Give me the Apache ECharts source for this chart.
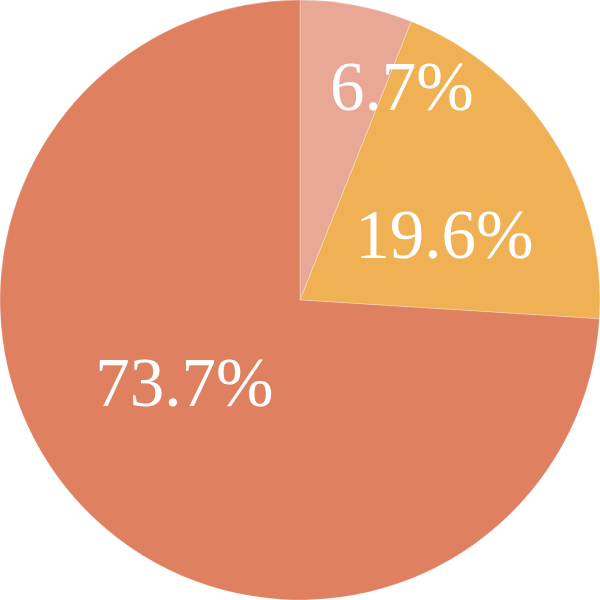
<!DOCTYPE html>
<html><head><meta charset="utf-8">
<script src="https://cdn.jsdelivr.net/npm/echarts@6/dist/echarts.min.js"></script>
<style>html,body{margin:0;padding:0;background:#fff}#c{width:600px;height:600px}</style>
</head><body><div id="c"></div>
<script>
const categories = ['A', 'B', 'C'];
const values = [6.05, 19.95, 74.0];
const labelTexts = ['6.7%', '19.6%', '73.7%'];
const colors = ['#E9A895', '#EFB153', '#DF8061'];
const labelOffsets = [[73, -58], [15, 22], [-4, -17]];

const chart = echarts.init(document.getElementById('c'), null, {renderer: 'canvas'});
chart.setOption({
  animation: false,
  series: [{
    type: 'pie',
    center: ['50%', '50%'],
    radius: ['0%', '100%'],
    startAngle: 90,
    clockwise: true,
    itemStyle: {borderColor: 'rgba(255,255,255,0.35)', borderWidth: 0.8},
    label: {
      show: true,
      position: 'inside',
      color: '#ffffff',
      fontFamily: '"Liberation Serif", "DejaVu Serif", serif',
      fontSize: 69,
      formatter: p => labelTexts[p.dataIndex]
    },
    labelLine: {show: false},
    emphasis: {disabled: true},
    data: categories.map((c, i) => ({
      name: c, value: values[i],
      itemStyle: {color: colors[i]},
      label: {offset: labelOffsets[i]}
    }))
  }]
});
</script></body></html>
